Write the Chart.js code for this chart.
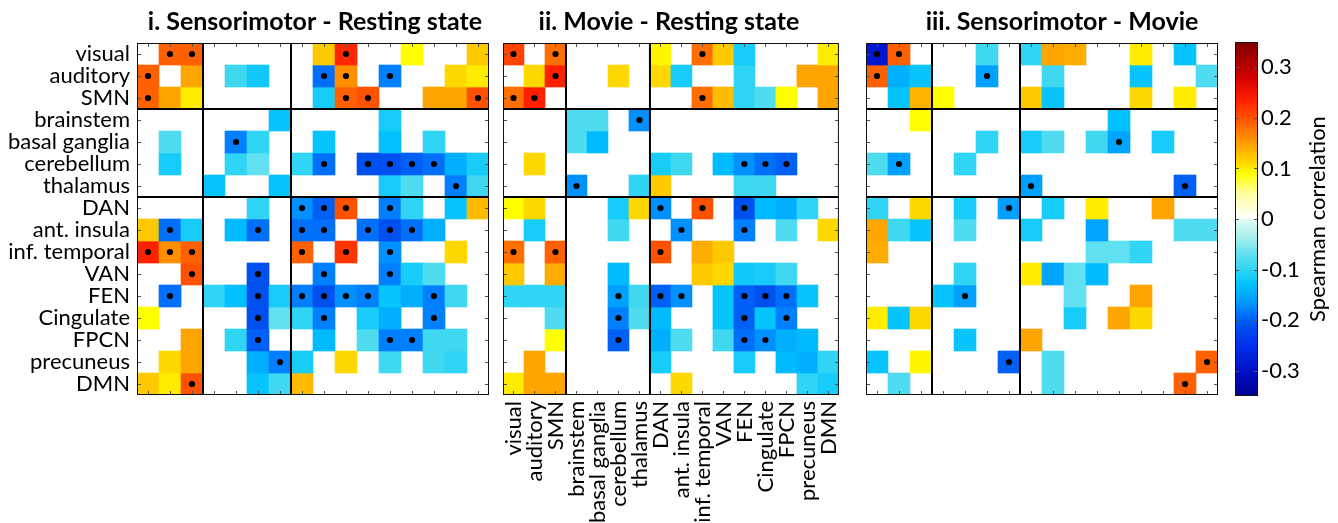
<!DOCTYPE html>
<html>
<head>
<meta charset="utf-8">
<script src="https://cdn.jsdelivr.net/npm/chart.js@4.4.1/dist/chart.umd.min.js"></script>
<style>
  html, body { margin: 0; padding: 0; background: #fff; width: 1338px; height: 523px; overflow: hidden; }
  canvas { position: absolute; top: 0; }
</style>
</head>
<body>
<canvas id="panelSensRest" width="495" height="523" style="left:0px"></canvas>
<canvas id="panelMovieRest" width="364" height="523" style="left:497px"></canvas>
<canvas id="panelSensMovie" width="364" height="523" style="left:860px"></canvas>
<canvas id="colorbar" width="113" height="523" style="left:1225px"></canvas>
<script>
// Brain networks / regions (rows and columns share the same order)
const regions = ['visual', 'auditory', 'SMN', 'brainstem', 'basal ganglia', 'cerebellum', 'thalamus',
  'DAN', 'ant. insula', 'inf. temporal', 'VAN', 'FEN', 'Cingulate', 'FPCN', 'precuneus', 'DMN'];
// Group boundaries (sensory | subcortical | cortical networks)
const groupBreaks = [3, 7];

const _ = null;

// i. Sensorimotor - Resting state : Spearman correlation differences
const sensRest = [
  [_, .19, .19, _, _, _, _, _, .12, .23, _, _, .09, _, _, .12],
  [.19, _, .145, _, -.09, -.12, _, _, -.19, .16, _, -.18, _, _, .11, .10],
  [.19, .145, .10, _, _, _, _, _, -.115, .19, .20, _, _, .145, .145, .20],
  [_, _, _, _, _, _, -.125, _, _, _, _, -.115, _, _, _, _],
  [_, -.08, _, _, -.18, -.10, _, _, -.125, _, _, -.13, _, -.10, _, _],
  [_, -.115, _, _, -.10, -.07, _, -.10, -.19, _, -.21, -.21, -.20, -.19, -.145, -.115],
  [_, _, _, -.125, _, _, -.125, _, _, _, _, -.115, -.08, _, -.18, -.09],
  [_, _, _, _, _, -.10, _, -.17, -.20, .20, _, -.18, -.10, _, -.125, .13],
  [.12, -.19, -.115, _, -.135, -.19, _, -.19, -.19, _, -.19, -.21, -.19, -.145, _, _],
  [.235, .16, .19, _, _, _, _, .19, _, .22, _, -.17, _, _, .11, _],
  [_, _, .20, _, _, -.21, _, _, -.18, _, _, -.18, -.115, -.08, _, _],
  [_, -.19, _, -.10, -.13, -.21, -.115, -.18, -.21, -.17, -.18, -.125, -.145, -.18, -.09, _],
  [.09, _, _, _, _, -.21, -.07, -.10, -.18, _, -.115, -.145, _, -.18, _, _],
  [_, _, .145, _, -.10, -.20, _, _, -.135, _, -.08, -.18, -.18, -.09, -.09, _],
  [_, .11, .145, _, _, -.145, -.18, -.115, _, .11, _, -.09, _, -.09, -.10, _],
  [.12, .10, .20, _, _, -.125, -.09, .13, _, _, _, _, _, _, _, _]
];
// significant cells (column indices per row)
const sensRestSig = [
  [1, 2, 9], [0, 8, 9, 11], [0, 9, 10, 15], [], [4], [8, 10, 11, 12, 13], [14], [7, 8, 9, 11],
  [1, 5, 7, 8, 10, 11, 12], [0, 1, 2, 7, 9, 11], [2, 5, 8, 11], [1, 5, 7, 8, 9, 10, 13],
  [5, 8, 13], [5, 11, 12], [6], [2]
];

// ii. Movie - Resting state
const movieRest = [
  [.21, _, .18, _, _, _, _, .095, _, .18, .12, -.115, _, _, _, .10],
  [_, .11, .235, _, _, .11, _, .11, -.115, _, _, -.10, _, _, .145, .145],
  [.18, .235, _, _, _, _, _, _, _, .18, .13, -.10, -.08, .09, _, .145],
  [_, _, _, -.08, -.08, _, -.17, _, _, _, _, _, _, _, _, _],
  [_, _, _, -.08, -.135, _, _, _, _, _, _, _, _, _, _, _],
  [_, .11, _, _, _, _, _, -.115, -.09, _, -.135, -.17, -.19, -.20, _, _],
  [_, _, _, -.17, _, _, -.10, .12, _, _, _, -.09, -.09, _, _, _],
  [.09, .11, _, _, _, -.115, .11, -.17, _, .20, _, -.21, -.135, -.145, -.10, _],
  [_, -.115, _, _, _, -.09, _, _, -.17, _, _, -.18, _, -.08, _, .11],
  [.18, _, .19, _, _, _, _, .20, _, .14, .12, _, _, _, _, _],
  [.12, _, .14, _, _, -.135, _, _, _, .12, .11, -.12, -.115, -.09, _, _],
  [-.10, -.10, -.10, _, _, -.16, -.09, -.20, -.17, _, -.125, -.20, -.21, -.19, -.125, _],
  [_, _, -.08, _, _, -.18, -.08, -.135, _, _, -.125, -.20, -.125, -.18, _, _],
  [_, _, .09, _, _, -.20, _, -.145, -.08, _, -.09, -.19, -.17, -.145, -.135, _],
  [_, .145, _, _, _, _, _, -.115, _, _, _, -.115, _, -.135, -.145, -.10],
  [.10, .145, .145, _, _, _, _, _, .11, _, _, _, _, _, -.10, -.115]
];
const movieRestSig = [
  [0, 2, 9], [2], [0, 1, 9], [6], [], [11, 12, 13], [3], [7, 9, 11],
  [8, 11], [0, 2, 7], [], [5, 7, 8, 11, 12, 13], [5, 11, 13], [5, 11, 12], [], []
];

// iii. Sensorimotor - Movie
const sensMovie = [
  [-.29, .19, _, _, _, -.09, _, -.10, .145, .14, _, _, .10, _, -.125, _],
  [.19, -.145, -.125, _, _, -.16, _, _, -.09, _, _, _, -.125, _, _, -.08],
  [_, -.125, .135, .09, _, _, _, .12, -.125, _, _, _, .11, _, .10, _],
  [_, _, .09, _, _, _, _, _, _, _, _, -.13, _, _, _, _],
  [_, _, _, _, _, -.10, _, -.115, -.08, _, -.09, -.155, _, -.115, _, _],
  [-.08, -.16, _, _, -.10, _, _, _, _, _, _, _, _, _, _, _],
  [_, _, _, _, _, _, _, -.16, _, _, _, _, _, _, -.20, _],
  [-.10, _, .11, _, -.115, _, -.16, _, -.115, _, .10, _, _, .145, _, _],
  [.145, -.09, -.125, _, -.08, _, _, -.115, _, _, -.155, _, _, _, -.08, -.08],
  [.14, _, _, _, _, _, _, _, _, _, -.07, -.07, -.10, _, _, _],
  [_, _, _, _, -.10, _, _, .10, -.155, -.07, -.135, _, _, _, _, _],
  [_, _, _, -.125, -.16, _, _, _, _, -.07, _, _, .145, _, _, _],
  [.10, -.125, .11, _, _, _, _, _, _, -.115, _, .145, .11, _, _, _],
  [_, _, _, _, -.125, _, _, .145, _, _, _, _, _, _, _, _],
  [-.125, _, .095, _, _, _, -.20, _, -.08, _, _, _, _, _, _, .19],
  [_, -.08, _, _, _, _, _, _, -.08, _, _, _, _, _, .19, _]
];
const sensMovieSig = [
  [0, 1], [0, 5], [], [], [11], [1], [7, 14], [6],
  [], [], [], [4], [], [], [6, 15], [14]
];

// Colour scale
const corrMin = -0.35, corrMax = 0.35;
const cbarTicks = [-0.3, -0.2, -0.1, 0, 0.1, 0.2, 0.3];

// Diverging jet-like colormap, white around zero
const negStops = [
  [-0.35, [0, 0, 140]], [-0.30, [0, 16, 200]], [-0.25, [0, 48, 235]], [-0.21, [0, 80, 240]],
  [-0.18, [0, 128, 255]], [-0.16, [0, 160, 255]], [-0.13, [0, 192, 255]], [-0.11, [32, 208, 248]],
  [-0.09, [64, 216, 240]], [-0.07, [96, 224, 240]], [-0.03, [180, 242, 236]], [0, [225, 250, 242]]
];
const posStops = [
  [0, [255, 255, 255]], [0.05, [255, 255, 160]], [0.09, [255, 255, 0]], [0.11, [255, 216, 0]],
  [0.145, [255, 165, 0]], [0.19, [255, 96, 0]], [0.235, [255, 32, 0]], [0.28, [210, 0, 0]], [0.35, [128, 0, 0]]
];

function interp(stops, v) {
  if (v <= stops[0][0]) return stops[0][1];
  for (let i = 1; i < stops.length; i++) {
    if (v <= stops[i][0]) {
      const [v0, c0] = stops[i - 1], [v1, c1] = stops[i];
      const f = (v - v0) / (v1 - v0);
      return c0.map((c, k) => Math.round(c + (c1[k] - c) * f));
    }
  }
  return stops[stops.length - 1][1];
}
function corrColor(v) {
  const c = v < 0 ? interp(negStops, v) : interp(posStops, v);
  return `rgb(${c[0]},${c[1]},${c[2]})`;
}

const FONT = 'Lato, "Open Sans", sans-serif';
const LABEL_SIZE = 22;
Chart.defaults.color = '#000';
Chart.defaults.font.family = FONT;

// Frame, group separators and inward tick marks
const framePlugin = {
  id: 'cellFrame',
  afterDatasetsDraw(chart, args, opts) {
    const { ctx, chartArea: a } = chart;
    const xs = chart.scales.x, ys = chart.scales.y;
    ctx.save();
    ctx.strokeStyle = '#555';
    ctx.lineWidth = 1;
    ctx.beginPath();
    (opts.xTickValues || []).forEach(v => {
      const px = Math.round(xs.getPixelForValue(v)) + 0.5;
      ctx.moveTo(px, a.top); ctx.lineTo(px, a.top + 4);
      ctx.moveTo(px, a.bottom); ctx.lineTo(px, a.bottom - 4);
    });
    (opts.yTickValues || []).forEach(v => {
      const py = Math.round(ys.getPixelForValue(v)) + 0.5;
      ctx.moveTo(a.left, py); ctx.lineTo(a.left + 4, py);
      ctx.moveTo(a.right, py); ctx.lineTo(a.right - 4, py);
    });
    ctx.stroke();
    ctx.strokeStyle = '#000';
    ctx.lineWidth = 2;
    ctx.beginPath();
    (opts.breaks || []).forEach(b => {
      const px = xs.getPixelForValue(b - 0.5);
      ctx.moveTo(px, a.top); ctx.lineTo(px, a.bottom);
      const py = ys.getPixelForValue(b);
      ctx.moveTo(a.left, py); ctx.lineTo(a.right, py);
    });
    ctx.stroke();
    ctx.lineWidth = 1;
    ctx.strokeStyle = '#111';
    ctx.strokeRect(a.left + 0.5, a.top + 0.5, a.width - 1, a.height - 1);
    ctx.restore();
  }
};

// Panel heading above the chart area
const headingPlugin = {
  id: 'panelHeading',
  afterDraw(chart, args, opts) {
    if (!opts.text) return;
    const { ctx, chartArea: a } = chart;
    ctx.save();
    ctx.font = `bold ${opts.size}px ${FONT}`;
    ctx.fillStyle = '#000';
    ctx.textAlign = 'center';
    ctx.textBaseline = 'alphabetic';
    ctx.fillText(opts.text, (a.left + a.right) / 2 + (opts.shift || 0), a.top - opts.gap);
    ctx.restore();
  }
};

function panel(canvasId, values, sig, cfg) {
  const datasets = values.map((row, r) => ({
    type: 'bar',
    data: row.map(v => (v === null ? null : [r, r + 1])),
    backgroundColor: row.map(v => (v === null ? 'rgba(0,0,0,0)' : corrColor(v))),
    grouped: false,
    barPercentage: 1,
    categoryPercentage: 1,
    borderWidth: 0,
    order: 1
  }));
  // significance markers, drawn above the cells
  datasets.push({
    type: 'line',
    showLine: false,
    order: 0,
    data: sig.flatMap((cols, r) => cols.map(c => ({ x: regions[c], y: r + 0.5 }))),
    pointRadius: 3.1,
    pointHoverRadius: 3.1,
    pointBackgroundColor: '#000',
    pointBorderColor: '#000',
    pointBorderWidth: 0
  });
  return new Chart(document.getElementById(canvasId), {
    type: 'bar',
    data: { labels: regions, datasets },
    options: {
      responsive: false,
      animation: false,
      events: [],
      layout: { padding: cfg.padding },
      plugins: {
        legend: { display: false },
        tooltip: { enabled: false },
        panelHeading: { text: cfg.title, size: 25, gap: 13, shift: cfg.titleShift },
        cellFrame: {
          breaks: groupBreaks,
          xTickValues: regions.map((_, i) => i),
          yTickValues: regions.map((_, i) => i + 0.5)
        }
      },
      scales: {
        x: {
          type: 'category',
          offset: true,
          display: cfg.showX,
          grid: { display: false, drawTicks: false },
          border: { display: false },
          ticks: {
            autoSkip: false, minRotation: 90, maxRotation: 90, padding: 6,
            font: { size: LABEL_SIZE, family: FONT }, color: '#000'
          },
          afterFit: s => { s.height = cfg.xAxisHeight || 0; }
        },
        y: {
          type: 'linear',
          min: 0, max: regions.length,
          reverse: true,
          display: cfg.showY,
          grid: { display: false, drawTicks: false },
          border: { display: false },
          afterBuildTicks: s => { s.ticks = regions.map((_, i) => ({ value: i + 0.5 })); },
          ticks: {
            autoSkip: false, padding: 7,
            font: { size: LABEL_SIZE, family: FONT }, color: '#000',
            callback: (v, i) => regions[i]
          },
          afterFit: s => { s.width = cfg.yAxisWidth || 0; }
        }
      }
    },
    plugins: [framePlugin, headingPlugin]
  });
}

panel('panelSensRest', sensRest, sensRestSig, {
  title: 'i. Sensorimotor - Resting state', titleShift: 2,
  padding: { left: 0, right: 6, top: 43, bottom: 128 },
  showX: false, showY: true, yAxisWidth: 137
});
panel('panelMovieRest', movieRest, movieRestSig, {
  title: 'ii. Movie - Resting state', titleShift: -2,
  padding: { left: 6, right: 6, top: 43, bottom: 0 },
  showX: true, showY: false, xAxisHeight: 128
});
panel('panelSensMovie', sensMovie, sensMovieSig, {
  title: 'iii. Sensorimotor - Movie', titleShift: 20,
  padding: { left: 6, right: 6, top: 43, bottom: 128 },
  showX: false, showY: false
});

// Rotated caption beside the colour bar
const captionPlugin = {
  id: 'barCaption',
  afterDraw(chart, args, opts) {
    const { ctx, chartArea: a } = chart;
    ctx.save();
    ctx.font = `${opts.size}px ${FONT}`;
    ctx.fillStyle = '#000';
    ctx.textAlign = 'center';
    ctx.textBaseline = 'middle';
    ctx.translate(a.right + opts.offset, (a.top + a.bottom) / 2);
    ctx.rotate(-Math.PI / 2);
    ctx.fillText(opts.text, 0, 0);
    ctx.restore();
  }
};

new Chart(document.getElementById('colorbar'), {
  type: 'bar',
  data: {
    labels: ['scale'],
    datasets: [{
      data: [[corrMin, corrMax]],
      barPercentage: 1,
      categoryPercentage: 1,
      borderWidth: 0,
      backgroundColor: ctx => {
        const chart = ctx.chart;
        const ys = chart.scales.y;
        if (!chart.chartArea || !ys) return '#fff';
        const y0 = ys.getPixelForValue(corrMin), y1 = ys.getPixelForValue(corrMax);
        const g = chart.ctx.createLinearGradient(0, y0, 0, y1);
        const span = corrMax - corrMin;
        negStops.concat(posStops).forEach(([v, c]) => {
          g.addColorStop((v - corrMin) / span, `rgb(${c[0]},${c[1]},${c[2]})`);
        });
        return g;
      }
    }]
  },
  options: {
    responsive: false,
    animation: false,
    events: [],
    layout: { padding: { left: 10, right: 0, top: 42, bottom: 127 } },
    plugins: {
      legend: { display: false },
      tooltip: { enabled: false },
      barCaption: { text: 'Spearman correlation', size: 22, offset: 60 },
      cellFrame: { breaks: [], xTickValues: [], yTickValues: cbarTicks }
    },
    scales: {
      x: { display: false, offset: true },
      y: {
        type: 'linear',
        position: 'right',
        min: corrMin, max: corrMax,
        grid: { display: false, drawTicks: false },
        border: { display: false },
        afterBuildTicks: s => { s.ticks = cbarTicks.map(v => ({ value: v })); },
        ticks: {
          padding: 3,
          font: { size: LABEL_SIZE, family: FONT }, color: '#000',
          callback: v => (Math.abs(v) < 1e-9 ? '0' : v.toFixed(1))
        },
        afterFit: s => { s.width = 80; }
      }
    }
  },
  plugins: [framePlugin, captionPlugin]
});
</script>
</body>
</html>
